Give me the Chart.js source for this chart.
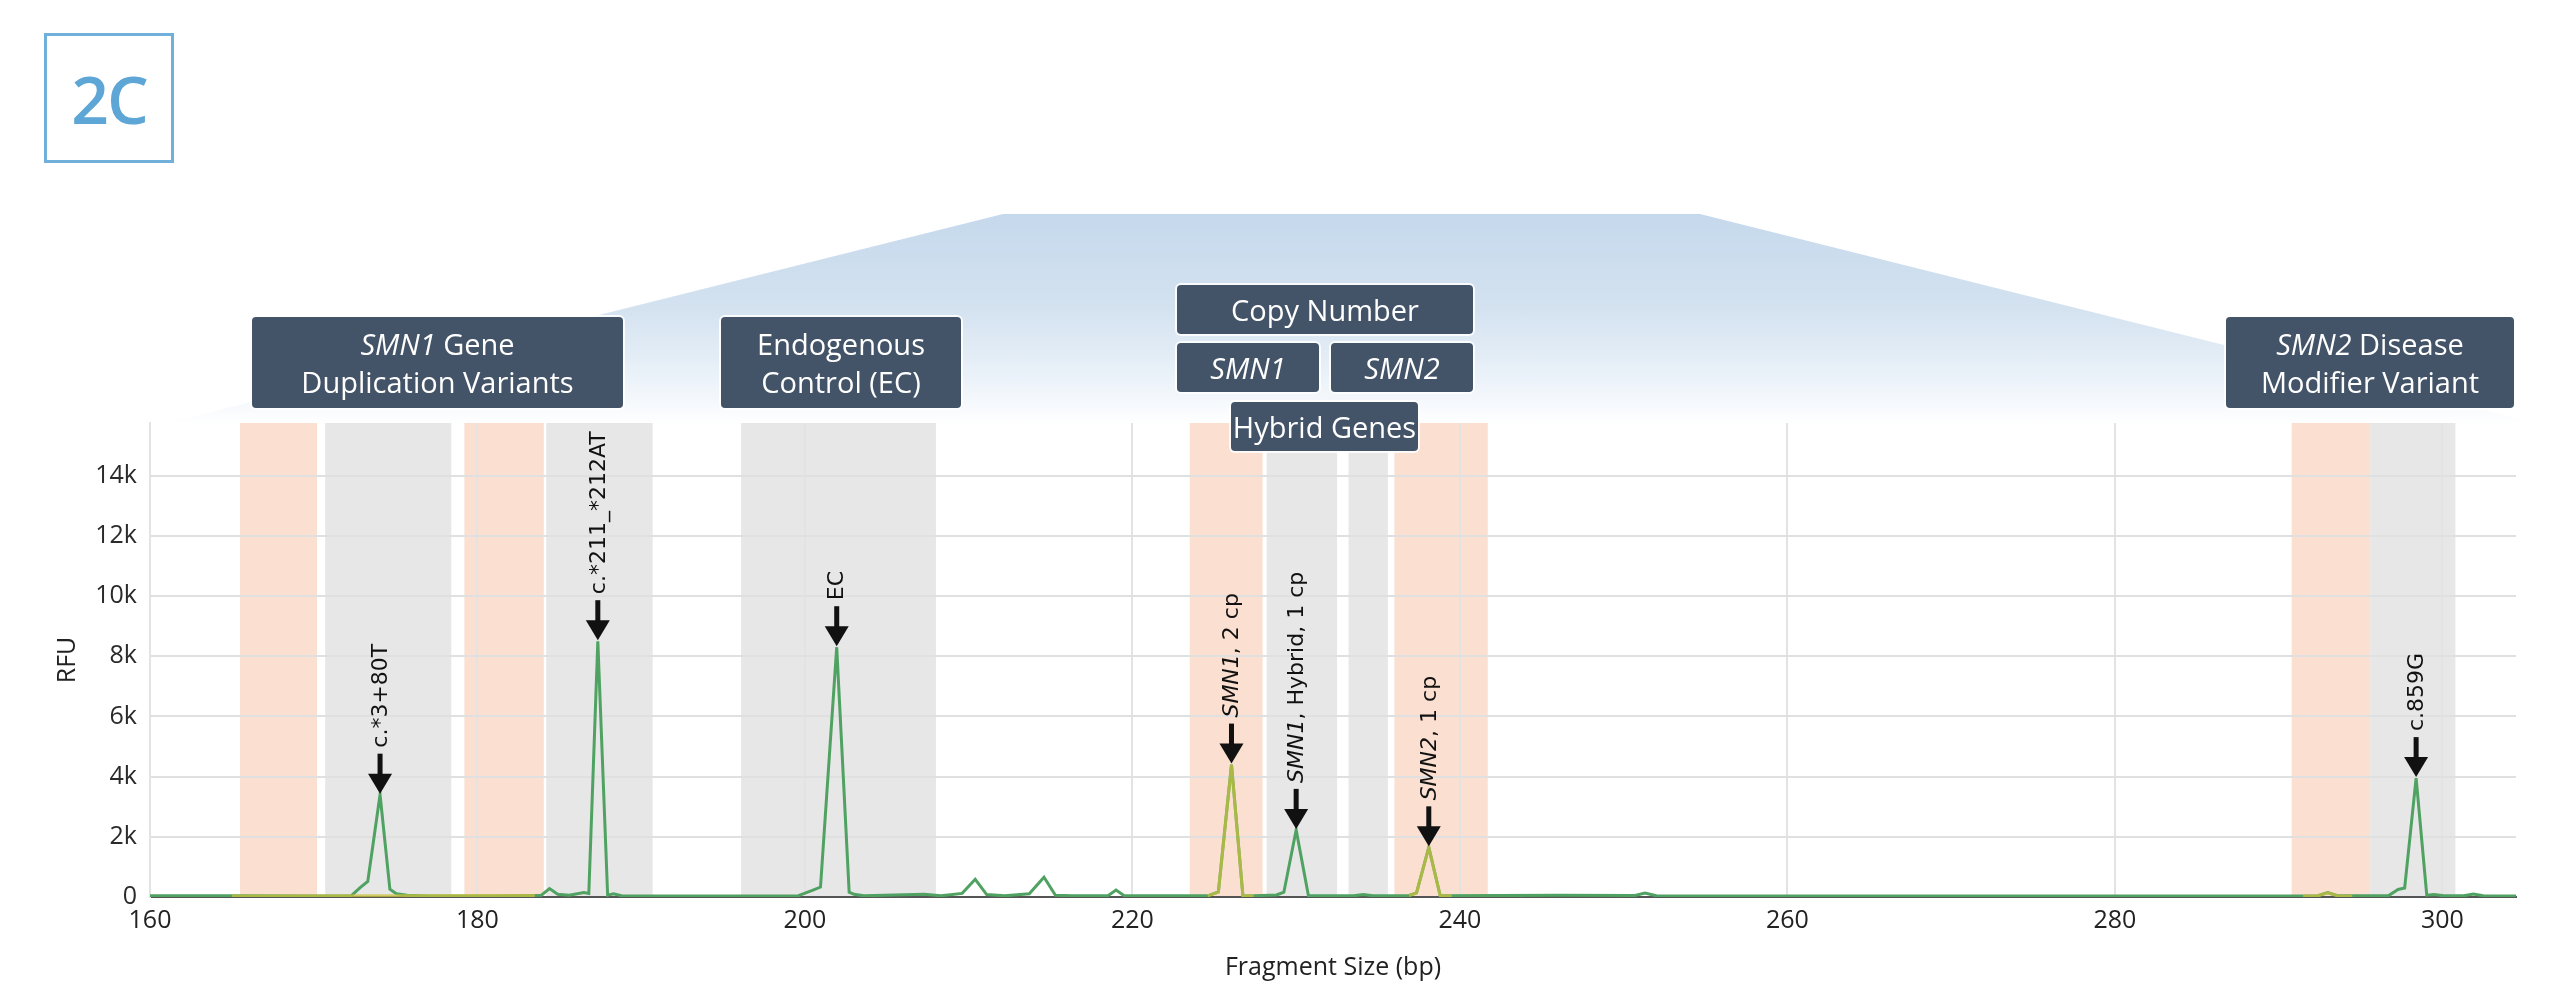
<!DOCTYPE html>
<html>
<head>
<meta charset="utf-8">
<title>SMN fragment analysis</title>
<script src="https://cdn.jsdelivr.net/npm/chart.js@4.4.1/dist/chart.umd.min.js"></script>
<style>
  html, body { margin: 0; padding: 0; background: #fff; }
  #wrap { position: relative; width: 2550px; height: 983px; overflow: hidden; font-family: "Open Sans", sans-serif; }
  #fan {
    position: absolute; left: 0; top: 214px; width: 2550px; height: 211px;
    background: linear-gradient(to bottom, #c5d9ec 0%, #d4e2f0 45%, #ebf2f9 78%, #ffffff 100%);
    clip-path: polygon(1003px 0, 1700px 0, 2544px 211px, 159px 211px);
  }
  canvas { position: absolute; left: 0; top: 0; }
  #badge {
    position: absolute; left: 44px; top: 33px; width: 124px; height: 124px;
    border: 3px solid #72b0dc; color: #5ea6d6; font-weight: 600; font-size: 66px;
    letter-spacing: -2px; display: flex; align-items: center; justify-content: center;
  }
  .tag {
    position: absolute; background: #445468; color: #fff; border-radius: 4px;
    box-shadow: 0 0 0 2px rgba(255,255,255,0.85); font-size: 29px; line-height: 38px;
    display: flex; flex-direction: column; align-items: center; justify-content: center;
    text-align: center; white-space: nowrap;
  }
</style>
</head>
<body>
<div id="wrap">
  <div id="fan"></div>
  <canvas id="chart" width="2550" height="983"></canvas>
  <div id="badge">2C</div>
  <div class="tag" style="left:252px;top:317px;width:371px;height:91px"><span><i>SMN1</i> Gene</span><span>Duplication Variants</span></div>
  <div class="tag" style="left:721px;top:317px;width:240px;height:91px"><span>Endogenous</span><span>Control (EC)</span></div>
  <div class="tag" style="left:1177px;top:285px;width:296px;height:49px"><span>Copy Number</span></div>
  <div class="tag" style="left:1177px;top:343px;width:142px;height:49px"><span><i>SMN1</i></span></div>
  <div class="tag" style="left:1331px;top:343px;width:142px;height:49px"><span><i>SMN2</i></span></div>
  <div class="tag" style="left:1231px;top:402px;width:187px;height:49px"><span>Hybrid Genes</span></div>
  <div class="tag" style="left:2226px;top:317px;width:288px;height:91px"><span><i>SMN2</i> Disease</span><span>Modifier Variant</span></div>
</div>
<script>
// electropherogram trace (fragment size in bp, signal in RFU)
const fragmentSize = [160, 165.3, 170.5, 172.3, 172.85, 173.3, 174.05, 174.65, 175.05, 175.7,
  177, 181, 183.9, 184.4, 184.9, 185.6, 186.5, 186.8, 187.35, 187.95,
  188.3, 188.8, 194, 199.6, 200.45, 200.95, 201.94, 202.7, 203.0, 203.6,
  207.3, 208.3, 209.6, 210.4, 211.1, 212.2, 213.7, 214.6, 215.3, 216.3,
  218.5, 219.0, 219.5, 224.6, 225.25, 226.05, 226.75, 227.4, 228.8, 229.25,
  230.0, 230.75, 233.5, 234.1, 234.7, 236.9, 237.35, 238.1, 238.8, 246,
  250.7, 251.3, 252.0, 262, 291.5, 292.4, 293.0, 293.6, 296.7, 297.3,
  297.7, 298.4, 299.05, 299.5, 300.1, 301.3, 301.9, 302.5, 304.5];
const rfuGreen = [45, 40, 35, 45, 320, 520, 3400, 260, 110, 60,
  35, 30, 60, 280, 90, 60, 150, 120, 8500, 60,
  110, 40, 35, 45, 220, 330, 8300, 160, 90, 40,
  90, 40, 120, 590, 80, 40, 110, 655, 60, 40,
  40, 230, 40, 40, 170, 4400, 30, 40, 70, 160,
  2230, 40, 40, 80, 40, 50, 140, 1650, 40, 55,
  50, 130, 40, 35, 35, 40, 145, 40, 40, 250,
  300, 3950, 60, 80, 40, 40, 100, 40, 30];

// second (yellow) dye, only where it shows
const yellowSize = [165, 183.5, 183.6, 224.6, 225.25, 226.05, 226.75, 227.4, 227.5, 236.9,
  237.35, 238.1, 238.8, 239.5, 239.6, 291.5, 292.4, 293.0, 293.6, 294.5];
const rfuYellow = [35, 50, null, 40, 160, 4380, 30, 40, null, 45,
  140, 1640, 40, 40, null, 35, 40, 140, 40, 35];

const xTicks = [160, 180, 200, 220, 240, 260, 280, 300];
const yTicks = [0, 2000, 4000, 6000, 8000, 10000, 12000, 14000];
const yTickLabels = ['0', '2k', '4k', '6k', '8k', '10k', '12k', '14k'];

// bin windows
const bandFrom = [165.5, 170.7, 179.2, 184.2, 196.1, 223.5, 228.2, 233.2, 236.0, 290.8, 295.6];
const bandTo = [170.2, 178.4, 184.05, 190.7, 208.0, 227.95, 232.5, 235.6, 241.7, 295.6, 300.8];
const bandKind = ['o', 'g', 'o', 'g', 'g', 'o', 'g', 'g', 'o', 'o', 'g'];

// called peaks
const peakSize = [174.05, 187.35, 201.94, 226.05, 230.0, 238.1, 298.4];
const peakRfu = [3400, 8500, 8300, 4400, 2230, 1650, 3950];
const peakGene = ['', '', '', 'SMN1', 'SMN1', 'SMN2', ''];
const peakText = ['c.*3+80T', 'c.*211_*212AT', 'EC', ', 2 cp', ', Hybrid, 1 cp', ', 1 cp', 'c.859G'];

const bandsPlugin = {
  id: 'bands',
  beforeDraw(chart) {
    const { ctx, chartArea, scales: { x } } = chart;
    ctx.save();
    bandFrom.forEach((b, i) => {
      const x0 = x.getPixelForValue(b);
      const x1 = x.getPixelForValue(bandTo[i]);
      ctx.fillStyle = bandKind[i] === 'o' ? '#fbdfd0' : '#e7e7e7';
      ctx.fillRect(x0, chartArea.top, x1 - x0, chartArea.bottom - chartArea.top);
    });
    ctx.restore();
  }
};

const arrowsPlugin = {
  id: 'arrows',
  afterDatasetsDraw(chart) {
    const { ctx, scales: { x, y } } = chart;
    ctx.save();
    ctx.fillStyle = '#111';
    peakSize.forEach((s, i) => {
      const px = x.getPixelForValue(s);
      const tip = y.getPixelForValue(peakRfu[i]) - 1;
      ctx.beginPath();
      ctx.moveTo(px - 12, tip - 20);
      ctx.lineTo(px + 12, tip - 20);
      ctx.lineTo(px, tip);
      ctx.closePath();
      ctx.fill();
      ctx.fillRect(px - 2.5, tip - 40, 5, 21);

      ctx.save();
      ctx.translate(px + 1, tip - 46);
      ctx.rotate(-Math.PI / 2);
      ctx.textAlign = 'left';
      ctx.textBaseline = 'middle';
      let off = 0;
      if (peakGene[i]) {
        ctx.font = 'italic 22px "DejaVu Sans"';
        ctx.fillText(peakGene[i], 0, 0);
        off = ctx.measureText(peakGene[i]).width;
      }
      ctx.font = '22px "DejaVu Sans"';
      ctx.fillText(peakText[i], off, 0);
      ctx.restore();
    });
    ctx.restore();
  }
};

const tickFont = { family: 'Open Sans', size: 25 };

new Chart(document.getElementById('chart'), {
  type: 'line',
  data: {
    datasets: [
      {
        label: 'yellow',
        data: yellowSize.map((s, i) => ({ x: s, y: rfuYellow[i] })),
        borderColor: 'rgba(200, 192, 60, 0.75)',
        borderWidth: 3,
        pointRadius: 0,
        spanGaps: false
      },
      {
        label: 'green',
        data: fragmentSize.map((s, i) => ({ x: s, y: rfuGreen[i] })),
        borderColor: '#4fa261',
        borderWidth: 3,
        pointRadius: 0
      }
    ]
  },
  options: {
    responsive: false,
    animation: false,
    devicePixelRatio: 1,
    layout: { padding: { top: 423, left: 0, right: 34, bottom: 0 } },
    plugins: { legend: { display: false }, tooltip: { enabled: false } },
    scales: {
      x: {
        type: 'linear',
        min: 160,
        max: 304.5,
        afterBuildTicks: (scale) => { scale.ticks = xTicks.map(v => ({ value: v })); },
        afterFit: (scale) => { scale.height = 86; },
        grid: { color: '#e3e3e3', lineWidth: 2, drawTicks: false },
        border: { color: '#555', width: 2 },
        ticks: { font: tickFont, color: '#222', padding: 9, maxRotation: 0 },
        title: {
          display: true, text: 'Fragment Size (bp)', color: '#222',
          font: { family: 'Open Sans', size: 25 }, padding: { top: 0, bottom: 0 }
        }
      },
      y: {
        min: 0,
        max: 15750,
        afterBuildTicks: (scale) => { scale.ticks = yTicks.map(v => ({ value: v })); },
        afterFit: (scale) => { scale.width = 150; },
        grid: { color: '#e0e0e0', lineWidth: 2, drawTicks: false },
        border: { color: '#e3e3e3', width: 2 },
        ticks: {
          font: tickFont, color: '#2a2a2a', padding: 13,
          callback: (v) => yTickLabels[yTicks.indexOf(v)]
        },
        title: {
          display: true, text: 'RFU', color: '#222',
          font: { family: 'Open Sans', size: 25 }, padding: { top: 53, bottom: 0 }
        }
      }
    }
  },
  plugins: [bandsPlugin, arrowsPlugin]
});
</script>
</body>
</html>
